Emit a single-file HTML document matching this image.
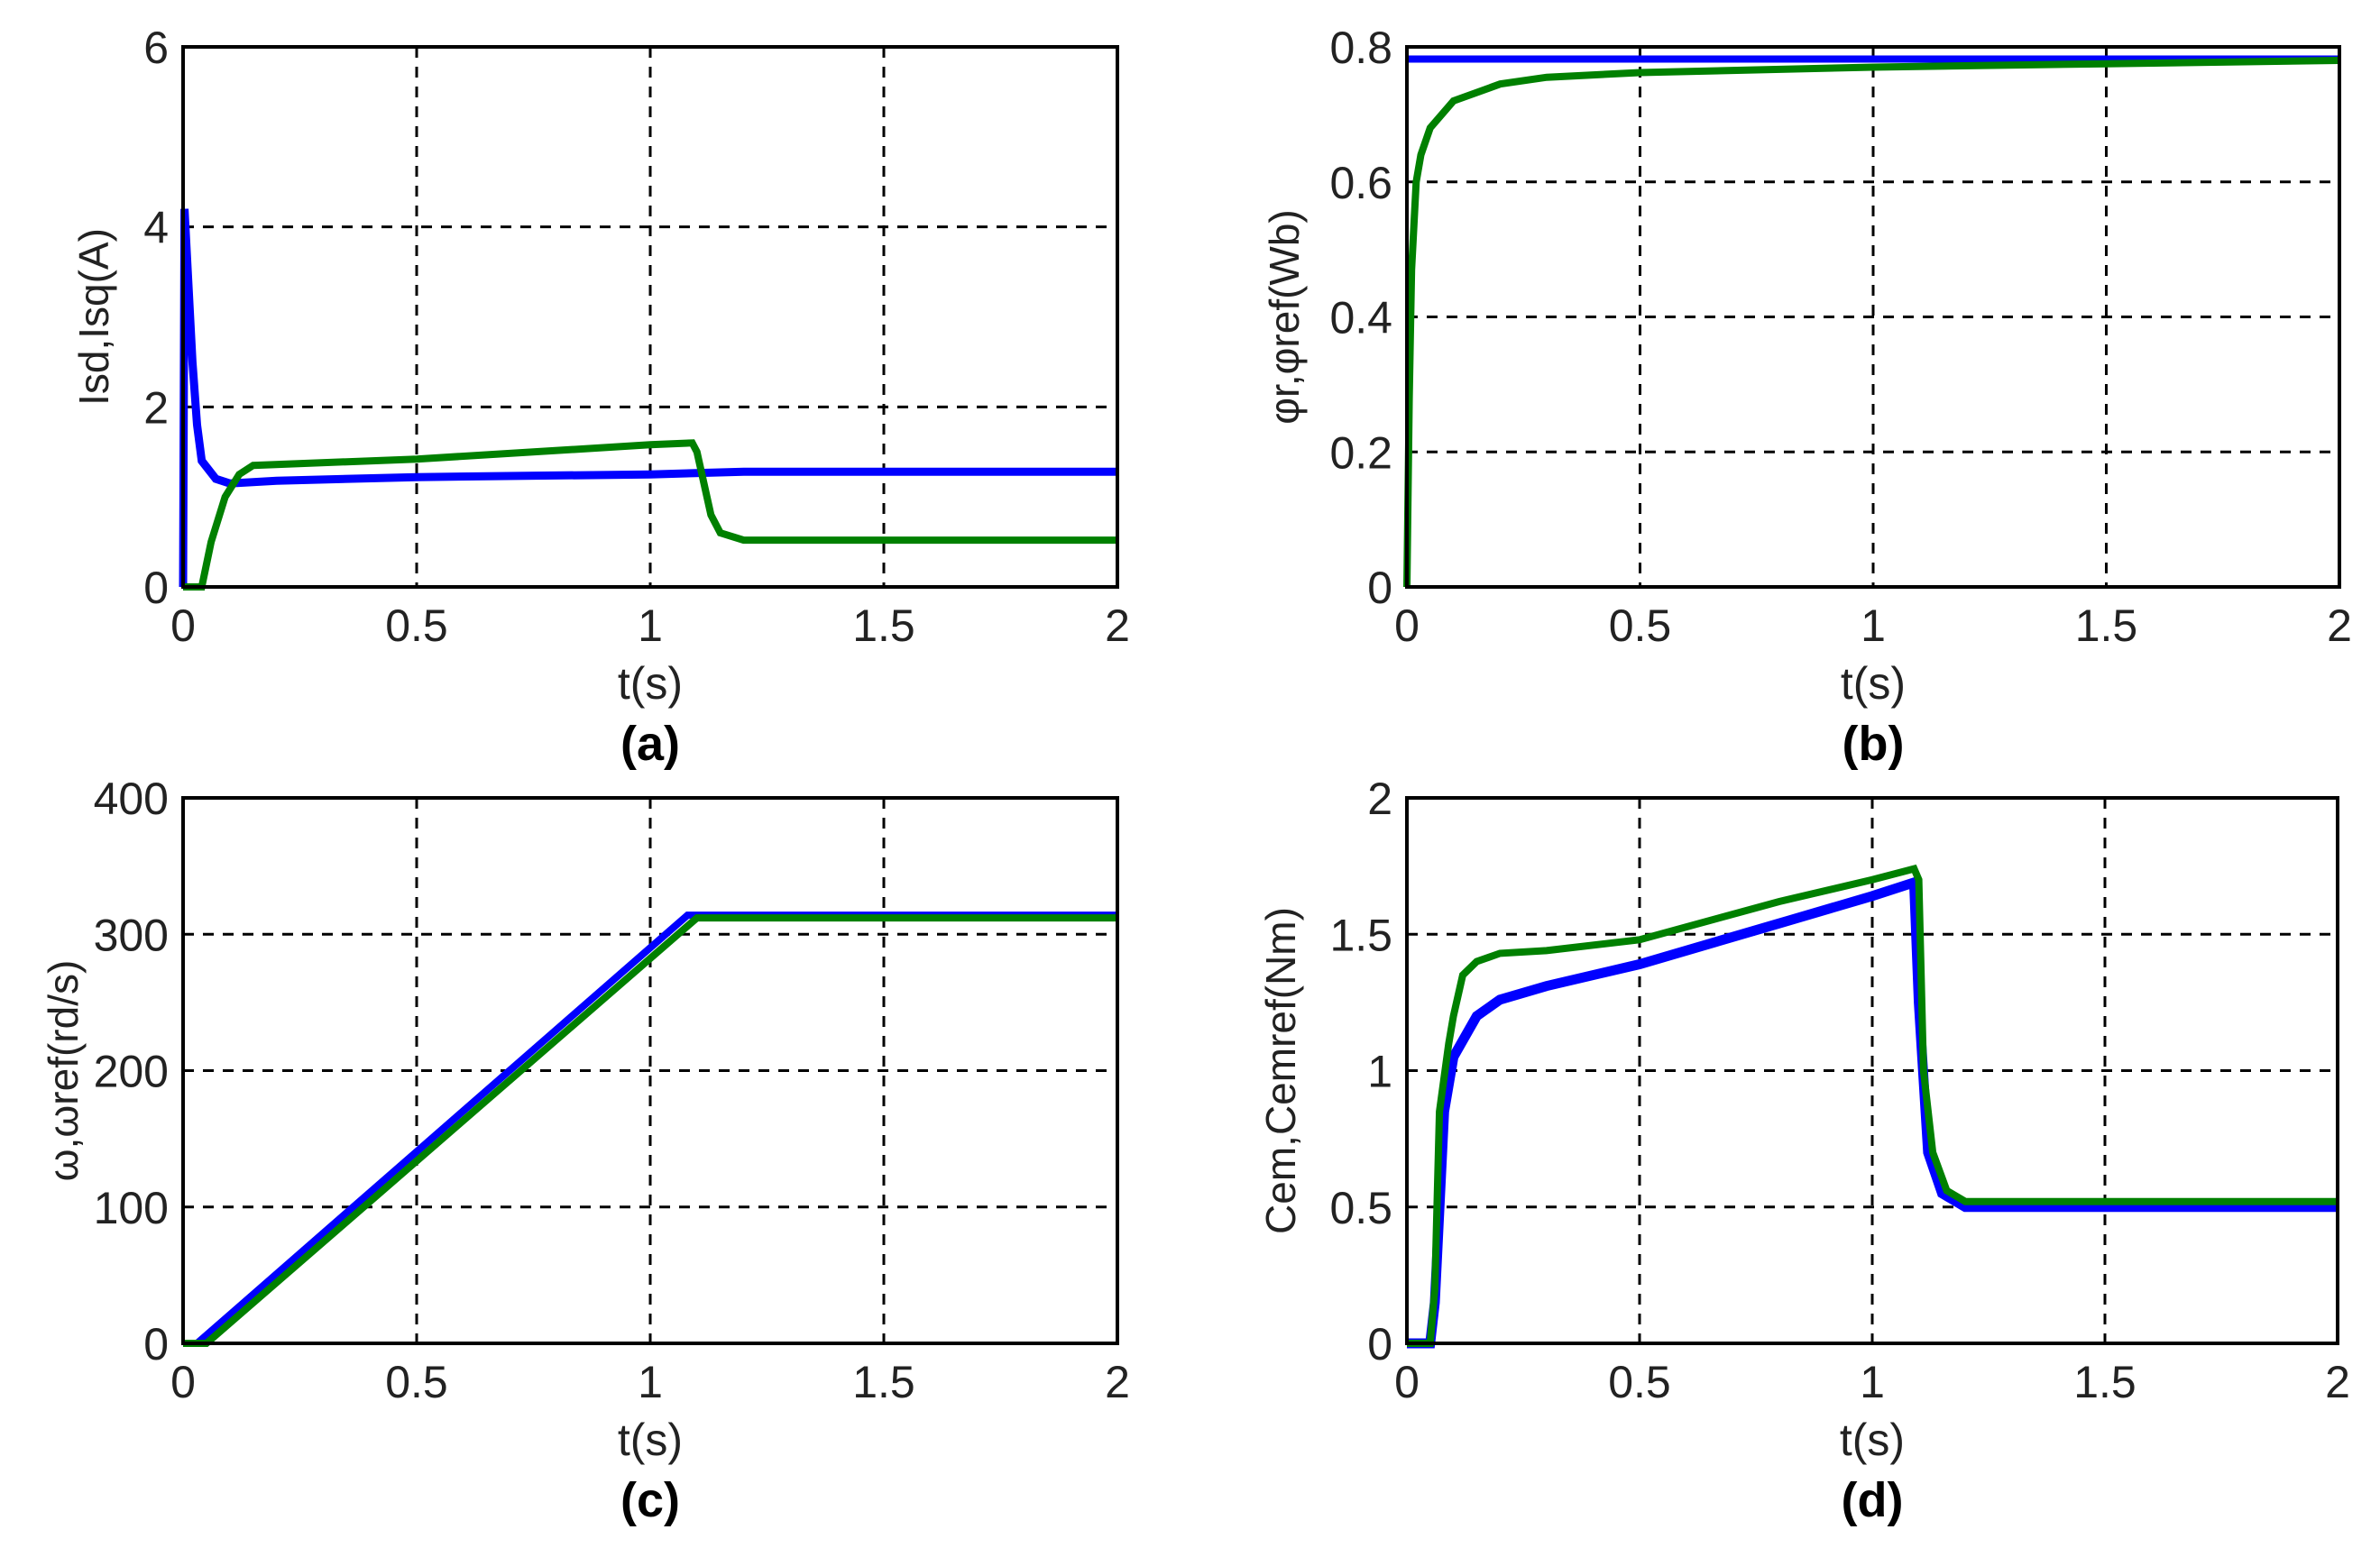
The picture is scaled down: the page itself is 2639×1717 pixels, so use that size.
<!DOCTYPE html>
<html><head><meta charset="utf-8">
<style>
html,body{margin:0;padding:0;background:#fff;}
svg{display:block;font-family:"Liberation Sans",Arial,sans-serif;}
</style></head>
<body>
<svg id="fig" width="2639" height="1717" viewBox="0 0 2639 1717" xmlns="http://www.w3.org/2000/svg"></svg>
<script>
const xTicks=[0,0.5,1,1.5,2];
const xTickLabels=["0","0.5","1","1.5","2"];
const aYTicks=[0,2,4,6];
const aBlue=[[0,0],[0.003,4.2],[0.01,3.5],[0.02,2.5],[0.03,1.8],[0.04,1.4],[0.07,1.2],[0.1,1.15],[0.2,1.18],[0.5,1.22],[1.0,1.25],[1.2,1.28],[2,1.28]];
const aGreen=[[0,0],[0.04,0],[0.06,0.5],[0.09,1.0],[0.12,1.25],[0.15,1.35],[0.5,1.42],[1.0,1.58],[1.09,1.6],[1.1,1.5],[1.13,0.8],[1.15,0.6],[1.2,0.52],[2,0.52]];
const bYTicks=[0,0.2,0.4,0.6,0.8];
const bBlue=[[0,0.782],[2,0.782]];
const bGreen=[[0,0],[0.005,0.28],[0.01,0.47],[0.02,0.6],[0.03,0.64],[0.05,0.68],[0.1,0.72],[0.2,0.745],[0.3,0.755],[0.5,0.762],[1,0.77],[1.5,0.775],[2,0.78]];
const cYTicks=[0,100,200,300,400];
const cBlue=[[0,0],[0.03,0],[1.08,314],[2,314]];
const cGreen=[[0,0],[0.05,0],[1.1,312],[2,312]];
const dYTicks=[0,0.5,1,1.5,2];
const dYTickLabels=["0","0.5","1","1.5","2"];
const dBlue=[[0,0],[0.05,0],[0.06,0.15],[0.08,0.85],[0.1,1.05],[0.15,1.2],[0.2,1.26],[0.3,1.31],[0.5,1.39],[0.8,1.54],[1.0,1.64],[1.09,1.69],[1.1,1.25],[1.12,0.7],[1.15,0.55],[1.2,0.5],[2,0.5]];
const dGreen=[[0,0],[0.05,0],[0.06,0.2],[0.07,0.85],[0.09,1.1],[0.1,1.2],[0.12,1.35],[0.15,1.4],[0.2,1.43],[0.3,1.44],[0.5,1.48],[0.8,1.62],[1.0,1.7],[1.09,1.74],[1.1,1.7],[1.11,1.0],[1.13,0.7],[1.16,0.56],[1.2,0.52],[2,0.52]];

const NS="http://www.w3.org/2000/svg";
const svg=document.getElementById('fig');
function mk(tag,attrs,parent,txt){const e=document.createElementNS(NS,tag);for(const k in attrs)e.setAttribute(k,attrs[k]);if(txt!==undefined)e.textContent=txt;(parent||svg).appendChild(e);return e;}

function panel(cfg){
  const g=mk('g',{});
  
  
  const L=cfg.x0,R=cfg.x1,T=cfg.y0,B=cfg.y1;
  const ymax=cfg.yTicks[cfg.yTicks.length-1];
  const sx=v=>L+(v-0)/2*(R-L);
  const sy=v=>B-(v/ymax)*(B-T);
  xTicks.forEach((t,i)=>{
    if(i>0&&i<xTicks.length-1){
      const l=mk('line',{x1:sx(t),x2:sx(t),y1:T,y2:B,stroke:'#000','stroke-width':3,'stroke-dasharray':'12,10'},g);
      
      
    }
    const tx=mk('text',{x:sx(t),y:B+60,'font-size':50,'text-anchor':'middle',fill:'#222'},g,xTickLabels[i]);
    
    
  });
  cfg.yTicks.forEach((v,i)=>{
    if(i>0&&i<cfg.yTicks.length-1){
      const l=mk('line',{x1:L,x2:R,y1:sy(v),y2:sy(v),stroke:'#000','stroke-width':3,'stroke-dasharray':'12,10'},g);
      
      
    }
    const lab=cfg.yLabels?cfg.yLabels[i]:String(v);
    const tx=mk('text',{x:L-16,y:sy(v)+18,'font-size':50,'text-anchor':'end',fill:'#222'},g,lab);
    
    
  });
  const pts=s=>s.map(p=>sx(p[0]).toFixed(1)+','+sy(p[1]).toFixed(1)).join(' ');
  const bl=mk('polyline',{points:pts(cfg.blue),fill:'none',stroke:'#0000ff','stroke-width':cfg.bw||8,'stroke-linejoin':'miter'},g);
  
  
  const gr=mk('polyline',{points:pts(cfg.green),fill:'none',stroke:'#008000','stroke-width':8,'stroke-linejoin':'miter'},g);
  
  
  const fr=mk('rect',{x:L,y:T,width:R-L,height:B-T,fill:'none',stroke:'#000','stroke-width':4},g);
  
  
  const xl=mk('text',{x:(L+R)/2,y:B+124,'font-size':50,'text-anchor':'middle',fill:'#222'},g,'t(s)');
  
  
  const cy=(T+B)/2;
  const yl=mk('text',{x:cfg.ylx,y:cy,'font-size':46,'text-anchor':'middle',fill:'#222',transform:`rotate(-90 ${cfg.ylx} ${cy})`},g,cfg.ylabel);
  
  
  const cap=mk('text',{x:(L+R)/2,y:B+192,'font-size':54,'font-weight':'bold','text-anchor':'middle',fill:'#000'},g,cfg.caption);
  
  
}
panel({name:'panel-a',x0:203,x1:1239,y0:52,y1:651,yTicks:aYTicks,blue:aBlue,green:aGreen,bw:9,ylabel:'Isd,Isq(A)',ylx:120,caption:'(a)'});
panel({name:'panel-b',x0:1560,x1:2594,y0:52,y1:651,yTicks:bYTicks,blue:bBlue,green:bGreen,bw:8,ylabel:'φr,φref(Wb)',ylx:1440,caption:'(b)'});
panel({name:'panel-c',x0:203,x1:1239,y0:885,y1:1490,yTicks:cYTicks,blue:cBlue,green:cGreen,bw:8,ylabel:'ω,ωref(rd/s)',ylx:86,caption:'(c)'});
panel({name:'panel-d',x0:1560,x1:2592,y0:885,y1:1490,yTicks:dYTicks,yLabels:dYTickLabels,blue:dBlue,green:dGreen,bw:11,ylabel:'Cem,Cemref(Nm)',ylx:1436,caption:'(d)'});
</script>
</body></html>
